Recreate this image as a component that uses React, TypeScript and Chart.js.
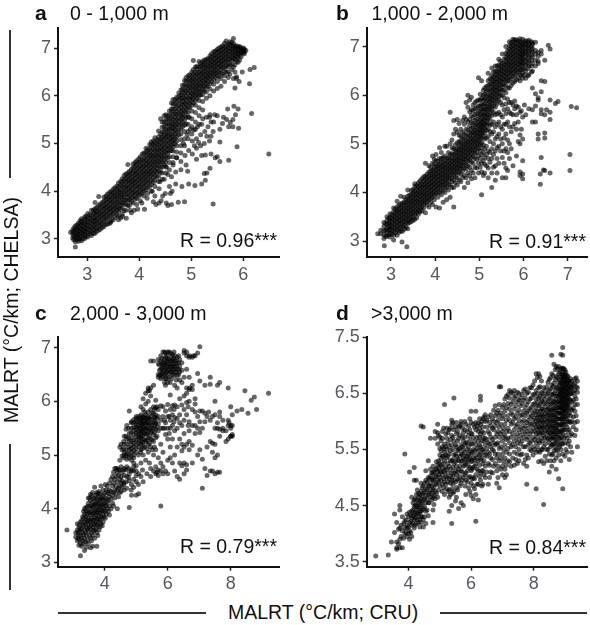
import React, { useEffect, useRef } from "react";
import { Chart, registerables } from "chart.js";
Chart.register(...registerables);

// Each row: x value followed by the y values read at that x.
const rowsA: number[][] = [
[2.68,3.14],[2.72,3.02,3.1,3.18],[2.77,2.83,2.94,3.03,3.11,3.19,3.27],[2.83,2.95,3.02,3.09,3.17,3.25,3.33],
[2.89,2.96,3.05,3.13,3.2,3.29,3.37,3.42],[2.95,3.01,3.08,3.16,3.24,3.32,3.41,3.46],[3.01,3.04,3.12,3.2,3.28,3.36,3.44,3.53],
[3.08,3.07,3.15,3.24,3.32,3.4,3.49,3.6],[3.15,3.12,3.21,3.3,3.38,3.46,3.55,3.63,3.76],[3.22,3.18,3.27,3.35,3.44,3.52,3.6,3.7,3.89],
[3.29,3.24,3.33,3.42,3.5,3.58,3.67,3.76],[3.36,3.3,3.4,3.48,3.57,3.65,3.73,3.82,3.9],[3.43,3.33,3.46,3.55,3.63,3.71,3.8,3.88,3.97],
[3.5,3.4,3.52,3.61,3.69,3.78,3.87,3.95,4.04],[3.57,3.5,3.6,3.68,3.76,3.85,3.93,4.02,4.11],[3.64,3.44,3.62,3.7,3.78,3.87,3.95,4.03,4.12,4.2],
[3.71,3.59,3.74,3.82,3.9,3.98,4.07,4.15,4.24,4.33],[3.78,3.7,3.8,3.88,3.96,4.05,4.13,4.22,4.3,4.38,4.56],[3.85,3.78,3.86,3.95,4.03,4.12,4.2,4.28,4.37,4.46],
[3.92,3.83,3.92,4.0,4.1,4.18,4.26,4.35,4.43,4.52,4.6],[3.99,3.9,3.99,4.08,4.16,4.25,4.33,4.42,4.5,4.6,4.68],[4.06,3.96,4.05,4.14,4.23,4.32,4.4,4.49,4.57,4.66,4.78],
[4.13,4.03,4.13,4.22,4.3,4.39,4.48,4.56,4.64,4.73,4.82,4.9],[4.2,4.1,4.2,4.3,4.38,4.46,4.55,4.63,4.72,4.8,4.89,4.98],[4.27,4.18,4.28,4.37,4.46,4.55,4.63,4.72,4.8,4.89,4.98,5.05],
[4.34,4.3,4.4,4.48,4.57,4.65,4.74,4.82,4.9,4.99,5.08],[4.41,4.4,4.5,4.6,4.68,4.76,4.85,4.93,5.02,5.1,5.2,5.52],[4.48,4.55,4.65,4.74,4.82,4.9,4.99,5.08,5.16,5.25,5.35,5.45,5.58],
[4.55,4.7,4.8,4.88,4.96,5.05,5.14,5.22,5.3,5.4,5.5,5.58],[4.62,4.85,4.95,5.04,5.12,5.2,5.3,5.38,5.46,5.55,5.65,5.72,5.85],[4.69,5.0,5.1,5.2,5.28,5.37,5.46,5.55,5.63,5.72,5.82,5.92],
[4.76,5.18,5.28,5.38,5.46,5.54,5.63,5.72,5.8,5.9,5.98,6.06],[4.83,5.35,5.45,5.54,5.62,5.7,5.8,5.88,5.96,6.05,6.14,6.22],[4.9,5.55,5.66,5.75,5.83,5.92,6.0,6.1,6.2,6.3,6.38],
[4.97,5.75,5.84,5.92,6.0,6.09,6.18,6.26,6.35,6.44],[5.04,5.85,5.94,6.02,6.1,6.19,6.28,6.36,6.45,6.55,6.74],[5.11,5.95,6.03,6.12,6.2,6.28,6.36,6.45,6.55,6.62],
[5.18,6.02,6.1,6.2,6.28,6.36,6.45,6.53,6.62,6.68],[5.25,6.1,6.2,6.28,6.36,6.44,6.52,6.6,6.68,6.75],[5.32,6.2,6.3,6.38,6.46,6.54,6.62,6.7,6.78],
[5.39,6.3,6.4,6.48,6.56,6.64,6.72,6.8,6.88],[5.46,6.38,6.46,6.54,6.62,6.7,6.78,6.86,6.94],[5.53,6.4,6.5,6.6,6.68,6.76,6.84,6.92,7.0],
[5.6,6.45,6.58,6.66,6.74,6.82,6.9,6.98,7.05],[5.67,6.5,6.62,6.72,6.8,6.88,6.96,7.04,7.15],[5.74,6.45,6.65,6.76,6.84,6.92,7.0,7.08,7.13],
[5.81,6.36,6.6,6.78,6.86,6.94,7.02,7.1,7.2],[5.87,6.4,6.72,6.82,6.9,6.98,7.05],[5.93,6.75,6.86,6.92,7.0,7.03],[6.0,6.9,6.96,7.0],[6.05,6.95]
];
const rowsA2: number[][] = [
[2.74,2.98,3.06,3.15,3.23],[2.8,2.98,3.06,3.13,3.21,3.29],[2.86,2.99,3.06,3.14,3.22,3.3,3.38],[2.92,3.0,3.09,3.17,3.25,3.34],[2.98,3.05,3.14,3.21,3.3,3.39,3.48],[3.05,3.1,3.18,3.26,3.35,3.43,3.51],[3.12,3.11,3.19,3.27,3.36,3.44,3.53,3.6],[3.18,3.16,3.24,3.33,3.41,3.5,3.58,3.66],[3.25,3.2,3.29,3.38,3.47,3.55,3.64,3.73],[3.32,3.26,3.36,3.45,3.53,3.62,3.7,3.79,3.87],[3.39,3.31,3.42,3.51,3.6,3.68,3.77,3.85,3.94],[3.46,3.38,3.49,3.58,3.66,3.75,3.83,3.92,4.0],[3.53,3.45,3.56,3.65,3.73,3.82,3.9,3.98,4.07],[3.6,3.48,3.58,3.66,3.75,3.83,3.92,4.0,4.08,4.17],[3.67,3.52,3.66,3.75,3.84,3.92,4.0,4.09,4.18,4.26],[3.74,3.6,3.72,3.82,3.93,4.02,4.1,4.19,4.27,4.36],[3.81,3.7,3.82,3.91,4.0,4.08,4.17,4.25,4.34,4.42],[3.88,3.75,3.88,3.97,4.06,4.15,4.23,4.31,4.4,4.49,4.57],[3.95,3.72,3.85,3.95,4.04,4.12,4.21,4.3,4.38,4.47,4.56,4.64],[4.02,3.8,3.93,4.02,4.11,4.2,4.28,4.37,4.46,4.54,4.62,4.72],[4.09,3.9,4.0,4.09,4.18,4.27,4.36,4.44,4.53,4.62,4.7,4.8],[4.16,3.95,4.07,4.17,4.26,4.35,4.43,4.52,4.6,4.69,4.78,4.87],[4.23,4.0,4.14,4.24,4.34,4.42,4.5,4.59,4.68,4.76,4.85,4.95,5.03],[4.3,4.1,4.23,4.33,4.42,4.51,4.6,4.68,4.76,4.85,4.94,5.02,5.12],[4.37,4.2,4.32,4.42,4.52,4.61,4.7,4.78,4.87,4.96,5.05,5.14,5.26],[4.44,4.25,4.38,4.5,4.6,4.7,4.79,4.88,4.97,5.06,5.14,5.24,5.34,5.45],[4.51,4.38,4.52,4.62,4.72,4.82,4.92,5.02,5.12,5.2,5.3,5.4,5.5,5.6],[4.58,4.45,4.6,4.72,4.84,4.93,5.02,5.11,5.2,5.3,5.38,5.48,5.58,5.68],[4.65,4.6,4.72,4.84,4.92,5.0,5.08,5.16,5.26,5.34,5.42,5.52,5.62,5.72,5.82,5.92],[4.72,4.7,4.82,4.95,5.05,5.14,5.24,5.34,5.42,5.5,5.6,5.68,5.78,5.88,5.97],[4.8,4.8,4.95,5.08,5.2,5.3,5.4,5.5,5.58,5.66,5.75,5.84,5.94,6.02,6.12],[4.87,4.95,5.1,5.25,5.38,5.48,5.58,5.68,5.77,5.86,5.95,6.04,6.12,6.22,6.32],[4.94,5.1,5.25,5.4,5.55,5.65,5.75,5.85,5.95,6.05,6.14,6.22,6.32,6.42],[5.01,5.2,5.35,5.52,5.68,5.8,5.9,5.98,6.06,6.15,6.24,6.32,6.4,6.5],[5.08,5.3,5.45,5.65,5.8,5.9,6.0,6.08,6.16,6.24,6.33,6.42,6.5,6.6],[5.15,5.4,5.58,5.75,5.9,6.0,6.08,6.16,6.24,6.33,6.42,6.5,6.6,6.72],[5.22,5.52,5.7,5.88,6.02,6.12,6.2,6.3,6.38,6.47,6.56,6.64,6.72],[5.29,5.55,5.95,6.08,6.18,6.26,6.34,6.42,6.5,6.58,6.66,6.76],[5.36,5.6,6.0,6.14,6.25,6.35,6.43,6.51,6.6,6.68,6.76,6.84],[5.43,5.45,6.1,6.24,6.34,6.44,6.52,6.6,6.68,6.76,6.84,6.92],[5.5,5.58,6.15,6.3,6.42,6.5,6.58,6.66,6.74,6.82,6.9,6.97],[5.57,6.2,6.36,6.47,6.55,6.63,6.71,6.79,6.87,6.95,7.02],[5.64,6.3,6.42,6.52,6.6,6.69,6.77,6.85,6.93,7.01,7.1],[5.71,6.38,6.5,6.6,6.68,6.76,6.84,6.92,7.0,7.08],[5.78,6.55,6.66,6.74,6.82,6.9,6.98,7.06,7.12],[5.84,6.5,6.65,6.76,6.84,6.92,7.0,7.04],[5.9,6.7,6.8,6.88,6.95,7.02],[5.96,6.82,6.9,6.97,7.0],[6.02,6.88,6.93,6.98]
];
const scatterA: number[][] = [
[3.45,3.35],[3.6,3.4],[3.68,3.47],[3.75,3.43],[3.82,3.6],[3.9,3.6],[3.97,3.62],[4.1,3.62],[4.15,3.85],[3.85,3.55],[4.05,3.75],[4.27,3.78],[4.3,3.9],[4.32,3.72],[4.38,3.75],[4.42,3.8],[4.45,3.9],[4.5,3.95],[4.52,3.75],[4.55,3.7],[4.62,3.72],[4.6,3.95],[4.63,4.0],[4.75,3.77],[4.87,3.78],[4.58,4.1],[4.7,4.15],[4.82,4.1],[4.95,4.15],[5.07,4.12],[5.2,4.15],[5.25,4.37],[5.3,4.38],[5.27,4.23],[5.36,4.48],[5.42,3.73],[5.55,4.62],[5.72,4.65],[5.1,4.67],[5.2,4.75],[5.27,4.76],[5.38,4.78],[5.46,4.7],[5.5,4.72],[4.4,4.2],[4.48,4.25],[4.55,4.35],[4.62,4.3],[4.7,4.4],[4.8,4.45],[4.9,4.55],[4.93,4.42],[4.38,4.05],[4.25,4.0],[4.52,4.5],[4.65,4.55],[4.72,4.7],[4.8,4.62],[4.88,4.75],[4.95,4.85],[5.02,4.78],[5.1,4.9],[5.18,4.95],[5.25,5.0],[5.35,5.05],[5.38,5.15],[5.55,5.03],[5.02,5.05],[5.1,5.1],[5.18,5.18],[5.26,5.25],[5.32,5.35],[5.38,5.45],[5.35,5.55],[5.2,5.4],[5.12,5.35],[5.05,5.28],[5.42,5.25],[5.3,5.15],[5.45,5.6],[5.6,5.42],[5.68,5.5],[5.75,5.44],[5.8,5.5],[5.85,5.6],[5.9,5.72],[5.82,5.78],[5.7,5.72],[5.62,5.55],[5.55,5.3],[5.72,5.35],[5.8,5.35],[6.16,5.63],[5.88,4.93],[5.91,5.32],[6.49,4.78],[6.12,6.25],[5.84,6.16],[5.98,6.5],[6.21,6.59],[6.13,6.55],[5.87,6.36],[5.92,6.3],[5.06,4.95],[5.14,5.02],[4.85,5.0],[4.92,5.18],[4.98,5.3],[4.9,5.4],[4.96,5.55]
];

const rowsB: number[][] = [
[2.7,3.15],[2.77,3.15,3.22],[2.84,3.05,3.13,3.21,3.3,3.38],[2.91,3.1,3.18,3.26,3.34,3.42,3.5],[2.98,3.08,3.16,3.24,3.32,3.4,3.48,3.56],
[3.06,3.02,3.12,3.2,3.28,3.36,3.44,3.52,3.6,3.68],[3.14,3.12,3.22,3.3,3.38,3.46,3.54,3.62,3.7,3.82],[3.22,3.2,3.28,3.36,3.44,3.52,3.6,3.68,3.76,3.92],
[3.3,3.24,3.32,3.4,3.48,3.56,3.64,3.72,3.8,3.9],[3.38,3.25,3.36,3.44,3.52,3.6,3.68,3.76,3.84,3.92,4.05],[3.46,3.4,3.48,3.56,3.64,3.72,3.8,3.88,3.96,4.04],
[3.54,3.45,3.55,3.63,3.71,3.79,3.87,3.95,4.03,4.12,4.18],[3.62,3.55,3.63,3.71,3.79,3.87,3.95,4.03,4.11,4.2],[3.7,3.62,3.7,3.78,3.86,3.94,4.02,4.1,4.18,4.28],
[3.78,3.58,3.78,3.86,3.94,4.02,4.1,4.18,4.26,4.34,4.6],[3.86,3.7,3.85,3.93,4.01,4.09,4.17,4.25,4.33,4.42,4.55],[3.94,3.75,3.9,3.98,4.06,4.14,4.22,4.3,4.38,4.46,4.6,4.75],
[4.02,3.7,3.98,4.06,4.14,4.22,4.3,4.38,4.46,4.54,4.65,4.78],[4.1,3.68,4.0,4.1,4.18,4.26,4.34,4.42,4.5,4.58,4.7,4.92],[4.18,3.8,4.04,4.14,4.22,4.3,4.38,4.46,4.54,4.62,4.72],
[4.26,3.85,4.1,4.2,4.28,4.36,4.44,4.52,4.6,4.7,4.95],[4.34,3.9,4.15,4.28,4.36,4.44,4.52,4.6,4.68,4.78,5.0,5.65],[4.42,3.7,4.1,4.25,4.36,4.44,4.52,4.6,4.68,4.78,4.9,5.2,5.48],
[4.5,4.15,4.3,4.42,4.5,4.58,4.66,4.74,4.82,4.9,5.02,5.24,5.5],[4.58,4.22,4.38,4.48,4.56,4.64,4.72,4.8,4.88,4.96,5.05,5.15,5.3],[4.66,4.1,4.35,4.5,4.6,4.68,4.76,4.84,4.92,5.0,5.1,5.2,5.4,5.55],
[4.74,4.2,4.4,4.55,4.65,4.73,4.81,4.89,4.97,5.05,5.15,5.28,5.45,5.75,6.0],[4.82,4.28,4.45,4.62,4.72,4.8,4.88,4.96,5.04,5.12,5.22,5.32,5.44,5.58,5.7,5.96],[4.9,4.3,4.52,4.7,4.8,4.88,4.96,5.04,5.12,5.2,5.28,5.38,5.48,5.6,5.72,5.85],
[4.98,4.4,4.6,4.76,4.9,4.98,5.06,5.14,5.22,5.3,5.38,5.46,5.56,5.66,5.78,5.9,6.36],[5.05,3.95,4.42,4.6,4.78,4.92,5.02,5.12,5.2,5.28,5.36,5.44,5.52,5.62,5.72,5.82,5.94,6.3],[5.12,4.4,4.58,4.72,4.9,5.1,5.22,5.32,5.4,5.48,5.56,5.64,5.72,5.82,5.92,6.02,6.15],
[5.2,4.3,4.5,4.7,4.85,5.15,5.3,5.42,5.52,5.6,5.68,5.76,5.84,5.92,6.0,6.1,6.2,6.3,6.45],[5.28,4.1,4.4,4.7,4.9,5.2,5.4,5.58,5.68,5.76,5.84,5.92,6.0,6.08,6.16,6.24,6.32,6.4,6.56],[5.36,4.25,4.55,4.85,5.1,5.35,5.6,5.75,5.85,5.94,6.02,6.1,6.18,6.26,6.34,6.42,6.5,6.6],
[5.44,4.6,4.95,5.2,5.45,5.65,5.9,5.98,6.06,6.14,6.22,6.3,6.38,6.46,6.54,6.62,6.74],[5.52,4.3,4.72,5.0,5.3,5.55,5.8,6.0,6.1,6.18,6.26,6.34,6.42,6.5,6.58,6.66,6.85],[5.6,4.3,4.5,4.9,5.2,5.4,5.62,5.82,6.05,6.2,6.3,6.38,6.46,6.54,6.62,6.7,6.78,6.86,7.0],
[5.68,4.7,5.0,5.35,5.65,5.85,6.15,6.3,6.38,6.46,6.54,6.62,6.7,6.78,6.86,6.94,7.02,7.1],[5.76,4.55,5.35,5.6,5.8,6.25,6.38,6.46,6.54,6.62,6.7,6.78,6.86,6.94,7.02,7.1,7.15],[5.84,4.75,5.3,5.6,5.78,6.32,6.44,6.52,6.6,6.68,6.76,6.84,6.92,7.0,7.08,7.14],
[5.92,4.35,4.42,5.0,5.18,5.65,6.3,6.42,6.52,6.62,6.7,6.78,6.86,6.94,7.02,7.1,7.16],[5.98,4.28,4.38,4.65,5.1,5.55,6.35,6.45,6.55,6.65,6.74,6.82,6.9,6.98,7.06,7.15],[6.05,5.6,6.35,6.5,6.62,6.72,6.82,6.9,6.98,7.06,7.12],
[6.12,5.72,6.42,6.6,6.7,6.8,6.9,6.98,7.06,7.13],[6.2,5.45,5.7,6.15,6.5,6.65,6.78,6.88,6.96,7.05,7.08],[6.27,5.45,5.78,6.03,6.6,6.72,6.85,6.92,7.09],[6.33,5.2,5.1,5.9,5.95,6.7,6.8,6.88,6.65],
[6.4,4.72,5.62,5.7,6.07,6.3,6.92,6.85],[6.48,5.6,5.22,5.12,4.45,6.72,6.28],[6.6,4.4,5.65,5.9,5.5],[6.38,4.17,4.38],[6.72,5.83],[6.78,5.87],[6.45,4.46],[6.56,7.03],[6.6,6.95],[7.05,4.78,4.45],[7.08,5.77],[7.2,5.74],[6.52,5.7],[2.85,2.9],[3.25,2.98],[3.36,2.88]
];
const rowsB2: number[][] = [
[2.88,3.1,3.22,3.36],[2.95,3.13,3.22,3.3,3.38,3.47],[3.02,3.14,3.22,3.3,3.38,3.46,3.54],[3.1,3.17,3.26,3.34,3.42,3.5,3.58,3.66],[3.18,3.18,3.26,3.34,3.42,3.5,3.58,3.66,3.74],[3.26,3.2,3.3,3.38,3.46,3.54,3.62,3.7,3.78],[3.34,3.28,3.38,3.46,3.54,3.62,3.7,3.78,3.86],[3.42,3.38,3.46,3.54,3.62,3.7,3.78,3.86,3.94],[3.5,3.42,3.5,3.58,3.66,3.74,3.82,3.9,3.98,4.06],[3.58,3.48,3.58,3.66,3.74,3.82,3.9,3.98,4.06,4.14],[3.66,3.6,3.68,3.76,3.84,3.92,4.0,4.08,4.16,4.24],[3.74,3.68,3.76,3.84,3.92,4.0,4.08,4.16,4.24,4.32],[3.82,3.74,3.82,3.9,3.98,4.06,4.14,4.22,4.3,4.38],[3.9,3.8,3.88,3.96,4.04,4.12,4.2,4.28,4.36,4.44,4.52],[3.98,3.85,3.94,4.02,4.1,4.18,4.26,4.34,4.42,4.5,4.58,4.68],[4.06,3.9,4.0,4.08,4.16,4.24,4.32,4.4,4.48,4.56,4.64],[4.14,3.95,4.05,4.14,4.22,4.3,4.38,4.46,4.54,4.62,4.7,4.82],[4.22,4.0,4.1,4.18,4.26,4.34,4.42,4.5,4.58,4.66,4.75,4.95],[4.3,4.05,4.15,4.24,4.32,4.4,4.48,4.56,4.64,4.72,4.82],[4.38,4.1,4.22,4.3,4.4,4.48,4.56,4.64,4.72,4.8,4.92,5.08],[4.46,4.2,4.32,4.4,4.48,4.56,4.64,4.72,4.8,4.88,4.98,5.3],[4.54,4.25,4.4,4.48,4.56,4.64,4.72,4.8,4.88,4.96,5.05,5.18,5.42],[4.62,4.3,4.44,4.54,4.62,4.7,4.78,4.86,4.94,5.02,5.12,5.24,5.48],[4.7,4.3,4.48,4.58,4.68,4.76,4.84,4.92,5.0,5.08,5.18,5.3,5.5,5.85],[4.78,4.35,4.52,4.66,4.76,4.84,4.92,5.0,5.08,5.16,5.24,5.36,5.5,5.66,5.9],[4.86,4.4,4.6,4.74,4.84,4.92,5.0,5.08,5.16,5.24,5.32,5.42,5.54,5.68,5.8],[4.94,4.5,4.68,4.82,4.92,5.0,5.08,5.16,5.24,5.32,5.4,5.5,5.62,5.74,5.88],[5.02,4.52,4.7,4.85,4.98,5.08,5.16,5.24,5.32,5.4,5.48,5.58,5.68,5.78,5.9,6.02],[5.09,4.35,4.65,4.82,4.98,5.16,5.26,5.34,5.42,5.5,5.6,5.7,5.8,5.9,6.0,6.1],[5.16,4.55,4.78,4.95,5.12,5.28,5.38,5.46,5.54,5.62,5.7,5.78,5.88,5.98,6.08,6.18],[5.24,4.62,4.82,5.05,5.25,5.38,5.5,5.6,5.7,5.78,5.86,5.94,6.02,6.12,6.22,6.34],[5.32,4.52,4.78,5.0,5.25,5.45,5.65,5.78,5.88,5.97,6.06,6.14,6.22,6.3,6.38,6.48],[5.4,4.4,4.7,4.92,5.15,5.4,5.62,5.82,5.92,6.02,6.1,6.18,6.26,6.34,6.42,6.5,6.6],[5.48,4.85,5.1,5.35,5.6,5.85,6.0,6.1,6.2,6.28,6.36,6.44,6.52,6.6,6.7],[5.56,4.6,4.85,5.12,5.4,5.7,5.95,6.1,6.22,6.32,6.4,6.48,6.56,6.64,6.74],[5.64,4.45,4.82,5.08,5.45,5.72,5.92,6.15,6.28,6.36,6.44,6.52,6.6,6.68,6.76,6.84,6.92],[5.72,4.9,5.25,5.62,5.85,6.2,6.34,6.44,6.52,6.6,6.68,6.76,6.84,6.92,7.0,7.08],[5.8,5.42,5.72,5.88,6.28,6.4,6.5,6.58,6.66,6.74,6.82,6.9,6.98,7.06,7.14],[5.88,5.05,5.45,5.75,6.35,6.48,6.56,6.64,6.72,6.8,6.88,6.96,7.04,7.12],[5.95,5.3,5.68,6.4,6.52,6.6,6.68,6.76,6.84,6.92,7.0,7.08],[6.02,5.8,6.42,6.55,6.65,6.75,6.85,6.92,7.02,7.1],[6.1,6.4,6.55,6.66,6.76,6.86,6.94,7.02,7.1],[6.18,6.48,6.6,6.72,6.82,6.92,7.0,7.1]
];

const rowsC: number[][] = [
[2.8,3.6],[3.08,3.55,3.47],[3.13,3.72,3.4,3.6],[3.18,3.32,3.5,3.65],[3.23,3.12,3.35,3.5,3.62,3.75],[3.3,3.4,3.55,3.7,3.85],[3.36,3.22,3.45,3.6,3.75,3.9,4.0],[3.42,3.28,3.5,3.65,3.8,3.95],[3.48,3.35,3.58,3.7,3.82,3.95,4.1,4.2],[3.55,3.27,3.45,3.62,3.75,3.88,4.0,4.15,4.27],[3.62,3.3,3.5,3.65,3.78,3.9,4.02,4.12,4.3],[3.68,3.45,3.6,3.72,3.84,3.96,4.08,4.2,4.4],[3.75,3.3,3.55,3.7,3.82,3.94,4.06,4.18,4.3],[3.82,3.6,3.75,3.87,3.98,4.1,4.22,4.32],[3.88,3.72,3.85,3.97,4.08,4.2,4.42],[3.95,3.75,3.9,4.02,4.15,4.25,4.35],[4.02,3.82,3.95,4.08,4.2,4.45],[4.08,4.0,4.12,4.3,4.42],[4.15,3.88,4.05,4.22,4.35,4.48],[4.25,4.1,4.25,4.42,4.6],[4.32,4.2,4.35,4.55,4.75],[4.4,4.35,4.5,4.68,4.75,4.0],[4.48,4.3,4.42,4.55,4.72,4.9,5.15],[4.55,4.4,4.52,4.68,4.98,5.1],[4.62,4.35,4.48,4.62,4.75,5.0,5.05,5.2,5.35],[4.7,4.38,4.6,4.78,4.92,5.02,5.2,5.3,5.55],[4.78,4.02,4.52,4.65,4.95,5.1,5.25,5.4,5.82],[4.85,4.25,4.45,4.72,4.9,5.05,5.18,5.32,5.5,5.62],[4.92,4.4,4.7,4.85,5.0,5.15,5.28,5.45,5.6],[5.0,4.25,4.5,4.7,5.05,5.2,5.35,5.48,5.58,5.68],[5.08,4.28,4.65,5.15,5.28,5.38,5.5,5.62,5.72],[5.15,4.6,4.85,5.1,5.25,5.35,5.45,5.55,5.65,5.75,5.9],[5.22,4.5,5.0,5.18,5.3,5.42,5.52,5.6,5.7,5.85,6.05],[5.3,4.9,5.25,5.38,5.48,5.58,5.66,5.75,5.95,6.15],[5.38,5.05,5.2,5.32,5.44,5.55,5.65,5.72,5.8,6.2,6.0,6.25],[5.46,4.6,4.75,5.15,5.3,5.42,5.5,5.6,5.72,5.85,6.1,6.25,6.75],[5.55,4.7,5.0,5.25,5.38,5.5,5.62,5.78,5.9,6.3,6.75],[5.62,4.78,4.65,5.1,5.32,5.48,5.6,5.75,5.88,6.02],[5.7,4.62,4.72,4.95,5.45,5.58,5.72,5.85,6.45,6.5,6.7,6.78],[5.78,4.05,4.7,4.85,5.2,5.5,5.65,5.92,6.42,6.5,6.6,6.75,6.85],[5.85,4.65,4.78,5.05,5.5,5.72,5.9,6.45,6.55,6.65,6.72,6.92],[5.93,4.7,5.38,5.6,5.82,6.3,6.42,6.52,6.62,6.72,6.82,6.9],[6.0,4.65,4.9,5.3,5.5,5.72,5.94,6.35,6.5,6.6,6.7,6.8,6.92],[6.08,4.95,5.15,5.5,5.65,5.85,6.12,6.35,6.55,6.65,6.75,6.9],[6.15,4.85,5.3,5.55,5.75,5.92,6.5,6.6,6.68,6.78,6.88],[6.22,4.7,5.0,5.45,5.7,5.93,6.3,6.55,6.65,6.75,6.85],[6.3,4.6,5.15,5.5,5.68,5.9,6.25,6.48,6.6,6.7,6.82],[6.38,4.55,4.85,5.3,5.6,5.75,6.05,6.4,6.55,6.65,6.78],[6.45,4.8,5.08,5.2,5.55,5.93,6.35,6.58,6.72],[6.52,4.65,4.85,5.15,5.4,5.65,5.85,6.1,6.45,6.9,6.95],[6.6,4.72,4.82,5.2,5.75,5.98,6.15,6.6,6.85],[6.68,5.1,5.25,5.45,5.62,6.0,6.22,6.45,6.82],[6.78,4.85,5.18,5.55,5.85,6.22,6.3,6.82],[6.87,5.4,5.55,5.8,5.95,6.85,6.05],[6.95,5.0,5.5,5.72,6.52,6.9],[7.02,5.1,5.42,5.62,5.82,7.02,6.38],[7.1,4.38,4.92,5.5,5.82],[7.18,4.75,5.62,5.78,6.3],[7.25,4.62,5.15,5.72],[7.35,4.7,5.25,5.65,6.32,6.45],[7.42,4.7,5.05,5.22,5.72],[7.5,4.65,4.95,5.2,5.5,5.75,6.0],[7.58,4.68,5.0,5.5,5.6,6.3],[7.65,4.68,5.35,5.48,5.72,6.35,5.8],[7.75,5.45,5.65],[7.85,5.45,5.25],[7.92,6.25,5.65,5.55,5.3],[8.0,5.35,5.35,5.5,5.55,5.9],[8.05,5.75,5.38],[8.2,5.82],[8.35,5.85],[8.45,6.2],[8.55,5.78],[8.65,6.02],[8.75,6.08],[8.82,5.85],[9.2,6.15]
];
const rowsC2: number[][] = [
[3.15,3.45,3.55],[3.2,3.42,3.58,3.7],[3.27,3.3,3.45,3.62,3.78],[3.33,3.35,3.52,3.68,3.82,3.95],[3.4,3.38,3.55,3.72,3.86,4.02],[3.45,3.42,3.62,3.76,3.9,4.04],[3.52,3.5,3.66,3.78,3.92,4.05,4.2],[3.58,3.4,3.55,3.7,3.82,3.94,4.06,4.24],[3.65,3.58,3.7,3.8,3.92,4.05,4.18],[3.72,3.62,3.76,3.88,3.98,4.1,4.25],[3.78,3.5,3.68,3.8,3.92,4.02,4.14,4.28],[3.85,3.66,3.8,3.92,4.04,4.16,4.28],[3.92,3.68,3.82,3.95,4.06,4.18],[3.98,3.85,3.98,4.1,4.28],[4.05,3.9,4.05,4.18,4.35],[4.12,3.95,4.15,4.28],[4.2,4.0,4.18,4.32,4.55],[4.28,4.05,4.3,4.48,4.68],[4.36,4.28,4.42,4.6,4.75],[4.44,4.22,4.38,4.62,4.72],[4.52,4.32,4.48,4.6,4.78,5.2],[4.6,4.45,4.72,4.95,5.12,5.25],[4.68,4.5,4.72,4.98,5.1,5.35,5.48],[4.76,4.58,4.75,5.02,5.15,5.32,5.5],[4.84,4.35,4.7,4.98,5.12,5.25,5.42,5.6],[4.92,4.55,4.78,4.95,5.08,5.22,5.38,5.52,5.66],[5.0,4.62,4.8,5.12,5.28,5.42,5.52,5.62,5.72],[5.07,4.45,5.0,5.22,5.34,5.44,5.55,5.68],[5.14,5.05,5.2,5.32,5.42,5.5,5.6,5.68],[5.2,4.72,5.12,5.24,5.36,5.46,5.56,5.64,5.72],[5.27,5.15,5.28,5.4,5.5,5.6,5.7,5.8],[5.34,4.65,5.12,5.28,5.4,5.5,5.6,5.68],[5.42,4.85,5.22,5.36,5.48,5.58,5.68,6.2],[5.5,5.1,5.28,5.45,5.55,5.66,5.78],[5.58,5.15,5.42,5.55,5.7,5.85],[5.66,4.68,5.35,5.52,5.68,5.9],[5.74,6.48,6.58,6.68],[5.82,6.52,6.62,6.7,6.8],[5.9,6.35,6.48,6.58,6.68,6.78,6.92],[5.97,6.42,6.55,6.65,6.75,6.85],[6.05,6.45,6.58,6.68,6.78,6.92],[6.12,6.42,6.54,6.64,6.74,6.84],[6.2,6.48,6.6,6.7,6.8,6.92],[6.27,6.4,6.54,6.65,6.75],[6.35,6.5,6.6,6.72,6.85],[6.6,6.25,6.92],[6.7,6.25,6.85],[6.82,6.85],[5.6,5.6,5.7],[5.9,5.5,5.65],[6.05,5.4,5.72],[6.2,5.62,5.85],[6.65,5.9,5.55],[7.3,5.8],[7.75,5.5],[7.95,5.6],[8.05,5.55,5.35]
];

const rowsD: number[][] = [
[2.95,3.6],[3.35,3.62],[3.45,3.85],[3.55,4.35,4.02],[3.62,3.75,3.72,4.2,3.85],[3.72,3.75,3.9,4.1,4.42,4.5],[3.8,3.75,4.05,4.3],[3.88,4.0,4.1,4.22,5.42],[3.95,3.95,4.15,4.35,4.1],[4.03,3.9,4.05,4.2,4.38,5.1],[4.1,3.95,4.15,4.28,4.4,4.65],[4.18,4.1,4.25,4.35,4.48,4.6,5.18,4.95],[4.25,4.18,4.3,4.42,4.52,4.7,4.95],[4.32,4.2,4.35,4.45,4.55,4.65,4.72],[4.4,4.2,4.3,4.4,4.52,4.62,4.75,4.9,5.92],[4.47,4.12,4.25,4.45,4.6,4.72,4.85,5.9],[4.55,4.18,4.4,4.55,4.68,4.8,4.95,5.12],[4.63,4.32,4.55,4.7,4.85,5.0,5.3],[4.7,4.65,4.78,4.9,5.02,5.15,5.7],[4.78,4.2,4.42,4.65,4.78,4.95,5.08,5.2],[4.85,4.62,4.75,4.88,5.02,5.15,5.82,5.7],[4.93,4.65,4.95,5.1,5.22,5.6,5.8,5.95],[5.0,4.85,5.0,5.12,5.25,5.4,5.52,5.72],[5.08,4.75,4.88,5.05,5.18,5.38,5.55,5.7,5.82],[5.15,4.7,4.92,5.1,5.3,5.45,5.6,6.3],[5.22,4.8,5.0,5.15,5.35,5.5,5.7,5.88],[5.3,4.4,4.65,4.78,4.98,5.2,5.42,5.55,5.85],[5.38,4.18,4.5,4.8,4.95,5.08,5.3,5.58,5.75,5.95,6.02],[5.45,4.75,4.95,5.08,5.25,5.4,5.65,5.85,6.42],[5.53,4.65,4.82,5.05,5.2,5.38,5.55,5.78,5.98],[5.6,4.45,4.95,5.15,5.3,5.5,5.7,5.9],[5.68,4.55,4.9,5.12,5.28,5.42,5.58,5.95,6.0],[5.75,4.5,5.0,5.2,5.35,5.5,5.65,5.8],[5.83,4.7,4.95,5.08,5.25,5.38,5.62,5.95],[5.92,4.82,5.0,5.2,5.32,5.42,5.55,5.75,5.92],[6.0,4.68,4.9,5.12,5.28,5.42,5.6,5.78,5.98,6.18],[6.07,4.62,4.85,5.0,5.18,5.35,5.5,5.72,5.95],[6.15,4.22,4.7,5.05,5.25,5.4,5.58,5.85,5.98,6.18],[6.23,4.6,4.88,5.12,5.3,5.48,5.65,5.82,5.97],[6.3,4.95,5.08,5.32,5.42,5.55,5.78,5.95,6.38,6.45],[6.38,4.88,5.12,5.25,5.5,5.72,5.9,6.05],[6.45,5.0,5.2,5.4,5.58,5.7,6.0,6.12],[6.55,4.88,5.25,5.45,5.62,5.82,6.08],[6.63,5.1,5.35,5.55,5.72,5.92,6.12],[6.72,5.2,5.48,5.62,5.85,6.0,6.2],[6.82,4.9,5.12,5.35,5.6,5.78,5.98,6.15],[6.9,4.82,5.3,5.52,5.72,5.9,6.1,6.3,6.62],[7.0,5.05,5.2,5.42,5.65,5.82,6.05,6.25],[7.08,5.0,5.15,5.35,5.58,5.75,5.95,6.18,6.4],[7.18,5.3,5.52,5.7,5.88,6.1,6.32,6.48],[7.28,5.2,5.55,5.72,5.95,6.15,6.3,6.52],[7.38,5.22,5.45,5.65,5.85,6.05,6.22,6.42,6.55],[7.48,5.25,5.42,5.62,5.78,5.95,6.15,6.35,6.52],[7.58,5.4,5.6,5.75,5.9,6.1,6.28,6.42],[7.68,5.25,5.55,5.72,5.88,6.02,6.18,6.38,6.55],[7.78,4.88,5.2,5.4,5.68,5.82,5.98,6.15,6.3,6.5],[7.88,5.5,5.62,5.78,5.95,6.08,6.22,6.4,6.6],[7.98,5.4,5.55,5.72,5.88,6.02,6.15,6.3,6.48,6.65],[8.08,4.8,5.45,5.62,5.78,5.9,6.0,6.12,6.25,6.4,6.55,6.85],[8.16,5.28,5.48,5.65,5.8,5.9,6.02,6.12,6.28,6.42,6.6,6.85],[8.25,5.3,5.5,5.7,5.82,5.92,6.02,6.12,6.22,6.38,6.52,6.72],[8.32,4.52,5.25,5.55,5.75,5.88,5.98,6.08,6.18,6.32,6.45,6.6],[8.42,5.3,5.5,5.68,5.8,5.9,6.0,6.1,6.2,6.32,6.48,6.62],[8.5,5.1,5.42,5.62,5.75,5.85,5.95,6.05,6.15,6.25,6.4,6.55,6.75],[8.58,5.2,5.4,5.58,5.7,5.8,5.9,6.0,6.1,6.2,6.32,6.48,6.65,6.85,7.18],[8.65,5.3,5.48,5.6,5.72,5.82,5.92,6.02,6.12,6.24,6.36,6.5,6.68,7.02],[8.72,5.15,5.35,5.5,5.65,5.78,5.88,5.98,6.08,6.2,6.32,6.45,6.6,6.8,6.98],[8.8,4.98,5.4,5.58,5.72,5.82,5.92,6.05,6.15,6.25,6.35,6.45,6.55,6.7,6.85,6.98],[8.87,5.3,5.5,5.65,5.8,5.95,6.05,6.15,6.25,6.33,6.42,6.5,6.58,6.68,6.8,6.92,7.2],[8.93,4.8,5.42,5.6,5.78,5.88,5.98,6.08,6.18,6.26,6.34,6.42,6.5,6.58,6.66,6.74,6.82,6.95,7.32,7.18],[9.0,5.38,5.62,5.85,6.0,6.1,6.2,6.28,6.36,6.44,6.52,6.6,6.68,6.76,6.84,6.92],[9.07,5.45,5.7,5.9,6.05,6.2,6.28,6.36,6.44,6.52,6.6,6.68,6.76,6.82],[9.14,5.32,5.65,5.85,6.0,6.15,6.3,6.4,6.48,6.56,6.64,6.72],[9.22,5.45,5.78,6.0,6.2,6.35,6.5,6.62,6.72,6.6],[9.32,5.75,5.98,6.18,6.3,6.45,6.55,6.68,6.76],[9.4,5.55,6.0,6.3,6.52,6.6,6.72]
];
const rowsD2: number[][] = [
[3.68,3.82,4.08],[3.76,3.95,4.15],[3.84,4.18,3.92],[3.92,4.02,4.25],[4.0,4.0,4.12,4.3],[4.07,4.02,4.22,4.33],[4.14,4.18,4.32,4.42,4.55],[4.21,4.15,4.28,4.38,4.5,4.62],[4.28,4.25,4.36,4.48,4.6,4.78],[4.36,4.12,4.26,4.38,4.48,4.58,4.7],[4.43,4.3,4.42,4.55,4.68,4.82],[4.51,4.3,4.48,4.62,4.75,4.9],[4.59,4.42,4.62,4.78,4.92],[4.66,4.55,4.72,4.85,4.98],[4.74,4.6,4.72,4.85,4.98,5.08],[4.81,4.52,4.68,4.82,4.95,5.1],[4.89,4.72,4.88,5.02,5.15,5.28],[4.96,4.78,4.92,5.05,5.18,5.3,5.75],[5.04,4.95,5.1,5.22,5.34,5.48,5.65],[5.12,4.82,4.98,5.12,5.25,5.38,5.52,5.88],[5.19,4.88,5.02,5.18,5.4,5.55,5.78],[5.26,4.75,4.92,5.08,5.25,5.38,5.62,5.8],[5.34,4.7,4.9,5.02,5.15,5.3,5.48,5.68,5.88],[5.42,4.72,4.88,5.02,5.18,5.32,5.5,5.72,5.98],[5.5,4.58,4.92,5.12,5.28,5.42,5.58,5.9],[5.57,4.78,4.98,5.1,5.32,5.48,5.65,5.82],[5.64,4.85,5.02,5.2,5.38,5.52,5.75,5.92],[5.72,4.95,5.1,5.3,5.42,5.55,5.72,5.88],[5.8,4.85,5.05,5.22,5.32,5.45,5.58,5.72,5.85,6.0],[5.88,4.92,5.12,5.28,5.38,5.5,5.62,5.82],[5.96,4.75,5.02,5.18,5.35,5.48,5.68,5.85,6.05],[6.03,4.98,5.15,5.3,5.45,5.6,5.78],[6.11,4.8,4.98,5.2,5.32,5.48,5.65,5.9],[6.19,4.88,5.15,5.35,5.52,5.72,5.92],[6.27,5.02,5.22,5.4,5.58,5.72,5.88,6.05],[6.34,4.85,5.12,5.35,5.5,5.65,5.82,6.0],[6.41,5.05,5.3,5.45,5.65,5.8,6.08],[6.5,5.1,5.38,5.52,5.68,5.9,6.02],[6.59,5.0,5.22,5.42,5.6,5.78,5.98],[6.68,5.08,5.32,5.5,5.68,5.88,6.05],[6.77,5.25,5.42,5.58,5.72,5.92,6.1,6.28],[6.86,5.0,5.2,5.42,5.62,5.82,6.02,6.2],[6.95,5.15,5.35,5.55,5.78,5.95,6.15,6.62],[7.04,5.28,5.5,5.72,5.88,6.1,6.3],[7.13,5.05,5.22,5.45,5.68,5.82,6.02,6.25,6.45],[7.23,5.28,5.42,5.62,5.82,6.02,6.22,6.42,6.55],[7.33,5.35,5.58,5.78,5.98,6.12,6.35,6.5],[7.43,5.32,5.55,5.72,5.92,6.08,6.28,6.45],[7.53,5.3,5.5,5.68,5.85,6.02,6.2,6.38,6.5],[7.63,5.42,5.65,5.82,5.98,6.12,6.32,6.48],[7.73,5.32,5.55,5.78,5.92,6.1,6.25,6.42,6.58],[7.83,5.35,5.58,5.72,5.88,6.02,6.18,6.35,6.52],[7.93,5.48,5.65,5.82,5.95,6.1,6.25,6.42,6.6],[8.03,5.5,5.68,5.82,5.95,6.06,6.18,6.32,6.48,6.72],[8.12,5.55,5.72,5.85,5.96,6.06,6.18,6.34,6.5,6.78],[8.2,5.45,5.62,5.78,5.88,5.98,6.08,6.18,6.3,6.45,6.62,6.8],[8.28,5.5,5.65,5.8,5.9,6.0,6.1,6.22,6.35,6.5],[8.37,5.38,5.6,5.72,5.84,5.94,6.04,6.14,6.26,6.4,6.55],[8.46,5.5,5.7,5.82,5.92,6.02,6.12,6.22,6.35,6.5,6.7],[8.54,5.3,5.55,5.68,5.78,5.88,5.98,6.08,6.18,6.3,6.42,6.58,6.78],[8.62,5.42,5.6,5.72,5.82,5.92,6.02,6.12,6.22,6.35,6.48,6.62,6.82],[8.69,5.55,5.68,5.78,5.88,5.98,6.08,6.18,6.28,6.4,6.55,6.75,6.92],[8.76,5.48,5.62,5.75,5.85,5.95,6.05,6.15,6.25,6.35,6.48,6.62,6.78,6.95],[8.83,5.55,5.7,5.82,5.94,6.04,6.14,6.24,6.32,6.4,6.48,6.56,6.64,6.74,6.88],[8.9,5.6,5.72,5.84,5.94,6.04,6.12,6.2,6.28,6.36,6.44,6.52,6.6,6.68,6.76,6.84,6.95],[8.96,5.7,5.85,5.95,6.05,6.14,6.22,6.3,6.38,6.46,6.54,6.62,6.7,6.78,6.86,6.94],[9.03,5.5,5.75,5.95,6.08,6.16,6.24,6.32,6.4,6.48,6.56,6.64,6.72,6.8,6.88],[9.1,5.6,5.82,6.0,6.12,6.24,6.32,6.4,6.48,6.56,6.64,6.72,6.8],[9.18,5.55,5.75,5.98,6.1,6.22,6.38,6.5,6.58,6.68,6.76],[9.27,5.9,6.08,6.24,6.38,6.52,6.65],[9.36,5.85,6.1,6.4,6.62,6.78]
];

const xTicksA = [3, 4, 5, 6];
const xTicksB = [3, 4, 5, 6, 7];
const xTicksCD = [4, 6, 8];
const yTicksABC = [3, 4, 5, 6, 7];
const yTicksD = [3.5, 4.5, 5.5, 6.5, 7.5];
const FONT = '"Liberation Sans", Arial, sans-serif';

const flat = (rows: number[][]) => rows.flatMap(([x, ...ys]) => ys.map((y) => ({ x, y })));
const pairs = (rows: number[][]) => rows.map(([x, y]) => ({ x, y }));

const panels = [
  { pts: [...flat(rowsA), ...flat(rowsA2), ...pairs(scatterA)], xr: [2.437, 6.687], yr: [2.62, 7.42], xt: xTicksA, yt: yTicksABC, left: 0, top: 0, w: 290, yw: 58, pr: 11, pt: 28, xh: 33 },
  { pts: [...flat(rowsB), ...flat(rowsB2)], xr: [2.451, 7.447], yr: [2.671, 7.383], xt: xTicksB, yt: yTicksABC, left: 295, top: 0, w: 295, yw: 71.7, pr: 2, pt: 28, xh: 33 },
  { pts: [...flat(rowsC), ...flat(rowsC2)], xr: [2.517, 9.533], yr: [2.918, 7.194], xt: xTicksCD, yt: yTicksABC, left: 0, top: 310, w: 290, yw: 58, pr: 11, pt: 27.3, xh: 33.3 },
  { pts: [...flat(rowsD), ...flat(rowsD2)], xr: [2.66, 9.723], yr: [3.411, 7.5], xt: xTicksCD, yt: yTicksD, left: 295, top: 310, w: 295, yw: 71.7, pr: 2, pt: 27.3, xh: 33.3 },
];

const texts = [
  { t: "a", x: 35, y: 13, b: true }, { t: "0 - 1,000 m", x: 70, y: 13 },
  { t: "b", x: 336, y: 13, b: true }, { t: "1,000 - 2,000 m", x: 371.5, y: 13 },
  { t: "c", x: 35, y: 313, b: true }, { t: "2,000 - 3,000 m", x: 70, y: 313 },
  { t: "d", x: 336, y: 313, b: true }, { t: ">3,000 m", x: 371, y: 313 },
  { t: "MALRT (°C/km; CRU)", x: 228, y: 612 },
];
const rTexts = [
  { t: "R = 0.96***", r: 277, y: 240 }, { t: "R = 0.91***", r: 586, y: 241 },
  { t: "R = 0.79***", r: 277, y: 546 }, { t: "R = 0.84***", r: 586, y: 547 },
];
const lines = [
  { l: 9, t: 30, w: 2, h: 148 }, { l: 9, t: 444, w: 2, h: 146 },
  { l: 58, t: 612, w: 148, h: 2 }, { l: 440, t: 612, w: 147, h: 2 },
];

function Panel({ p }: { p: (typeof panels)[number] }) {
  const ref = useRef<HTMLCanvasElement>(null);
  useEffect(() => {
    const axis = (r: number[], ticks: number[], fit: (s: any) => void) => ({
      type: "linear" as const,
      min: r[0],
      max: r[1],
      afterBuildTicks: (s: any) => { s.ticks = ticks.map((value) => ({ value })); },
      afterFit: fit,
      border: { color: "#111", width: 2 },
      grid: { drawOnChartArea: false, color: "#222", tickLength: 4, tickWidth: 1.5 },
      ticks: { color: "#55585f", font: { family: FONT, size: 18 }, padding: 3, autoSkip: false, maxRotation: 0, callback: (v: any) => String(v) },
    });
    const chart = new Chart(ref.current!, {
      type: "scatter",
      data: { datasets: [{ data: p.pts, backgroundColor: "rgba(0,0,0,0.6)", borderWidth: 0, pointRadius: 2.5, pointHoverRadius: 2.5 }] },
      options: {
        animation: false,
        responsive: false,
        layout: { padding: { top: p.pt, right: p.pr, left: 0, bottom: 0 } },
        plugins: { legend: { display: false }, tooltip: { enabled: false } },
        scales: {
          x: axis(p.xr, p.xt, (s: any) => { s.height = p.xh; }),
          y: axis(p.yr, p.yt, (s: any) => { s.width = p.yw; }),
        },
      },
    });
    return () => chart.destroy();
  }, [p]);
  return <canvas ref={ref} width={p.w} height={290} style={{ position: "absolute", left: p.left, top: p.top, width: p.w, height: 290 }} />;
}

const textStyle: React.CSSProperties = { position: "absolute", fontFamily: FONT, fontSize: 19.5, lineHeight: "24px", whiteSpace: "nowrap", color: "#111" };

export default function App() {
  return (
    <div style={{ position: "absolute", left: 0, top: 0, width: 590, height: 625, background: "#fff", overflow: "hidden" }}>
      {panels.map((p, i) => <Panel key={i} p={p} />)}
      {texts.map((s, i) => (
        <div key={i} style={{ ...textStyle, left: s.x, top: s.y - 12, fontWeight: s.b ? 700 : 400, fontSize: s.b ? 21 : 19.5 }}>{s.t}</div>
      ))}
      {rTexts.map((s, i) => (
        <div key={i} style={{ ...textStyle, right: 590 - s.r, top: s.y - 12 }}>{s.t}</div>
      ))}
      {lines.map((s, i) => (
        <div key={i} style={{ position: "absolute", left: s.l, top: s.t, width: s.w, height: s.h, background: "#333" }} />
      ))}
      <div style={{ ...textStyle, left: 11, top: 310, transform: "translate(-50%,-50%) rotate(-90deg)" }}>MALRT (°C/km; CHELSA)</div>
    </div>
  );
}
